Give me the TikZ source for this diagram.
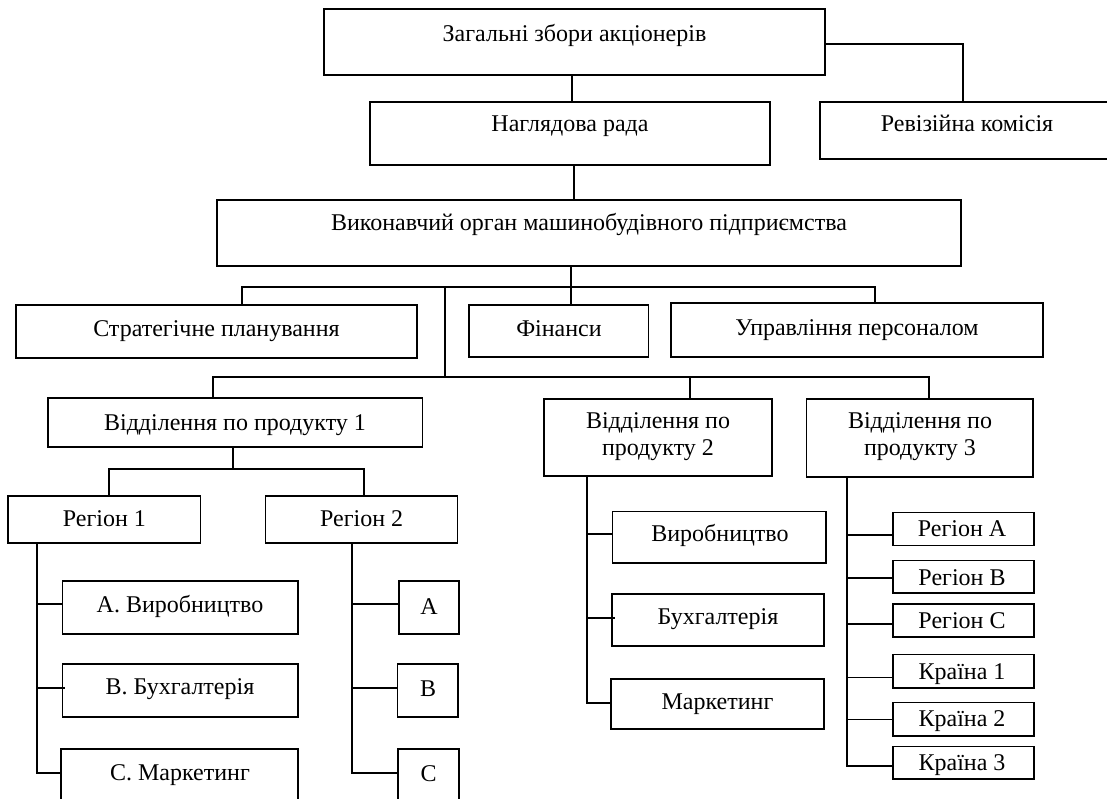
\documentclass[tikz,border=0pt]{standalone}
\usepackage{fontspec}
\setmainfont{Liberation Serif}
\tikzset{
  box/.style={draw, line width=1.3pt, inner sep=0pt, outer sep=0pt},
  txt/.style={anchor=base, inner sep=0pt, font=\fontsize{24}{28}\selectfont},
  link/.style={line width=1.3pt}
}
\newcommand{\mkbox}[5]{\node[box, minimum width={(#4)-(#2)}, minimum height={(#5)-(#3)}] (#1) at ({((#2)+(#4))/2},{((#3)+(#5))/2}) {};}
\begin{document}
\begin{tikzpicture}[x=1pt,y=-1pt]
\useasboundingbox (0,0) rectangle (1107,798);
\clip (0,0) rectangle (1107,798);
\fill[white] (0,0) rectangle (1107,798);
% boxes
\mkbox{zag}{324}{9}{825}{75}
\mkbox{nag}{370}{102}{770}{165}
\mkbox{rev}{820}{102}{1112}{159}
\mkbox{vyk}{217}{200}{961}{266}
\mkbox{strat}{16}{305}{417}{358}
\mkbox{fin}{469}{305}{648.5}{357}
\mkbox{upr}{671}{303}{1043}{357}
\mkbox{vid1}{48}{398}{422.5}{447}
\mkbox{vid2}{544}{399}{772}{476}
\mkbox{vid3}{806.5}{399}{1033}{477}
\mkbox{reg1}{8}{496}{200.7}{543}
\mkbox{reg2}{265.7}{496}{457.7}{543}
\mkbox{a1}{62.5}{581}{298}{634}
\mkbox{b1}{62.5}{664}{298}{717}
\mkbox{c1}{61}{749}{298}{800}
\mkbox{a2}{399}{581}{459}{634}
\mkbox{b2}{397.5}{664}{458}{717}
\mkbox{c2}{398}{749}{459}{800}
\mkbox{vir}{612.7}{511.7}{826}{563}
\mkbox{buh}{612}{594}{824}{646}
\mkbox{mar}{611}{679}{824}{729}
\mkbox{rA}{893}{512.7}{1034}{545.5}
\mkbox{rB}{893}{560.7}{1034}{593}
\mkbox{rC}{893}{604}{1034}{637}
\mkbox{k1}{893}{654.7}{1034}{688}
\mkbox{k2}{893}{702.7}{1034}{736}
\mkbox{k3}{893}{746.7}{1034}{779}
% texts
\node[txt] (tzag) at (574.5,41) {Загальні збори акціонерів};
\node[txt] (tnag) at (570,131.7) {Наглядова рада};
\node[txt] (trev) at (967,131.7) {Ревізійна комісія};
\node[txt] (tvyk) at (589,230) {Виконавчий орган машинобудівного підприємства};
\node[txt] (tstrat) at (216.5,336.7) {Стратегічне планування};
\node[txt] (tfin) at (559,336.7) {Фінанси};
\node[txt] (tupr) at (857,335) {Управління персоналом};
\node[txt] (tvid1) at (235,430) {Відділення по продукту 1};
\node[txt] (tvid2a) at (658,428) {Відділення по};
\node[txt] (tvid2b) at (658,455) {продукту 2};
\node[txt] (tvid3a) at (920,428) {Відділення по};
\node[txt] (tvid3b) at (920,455) {продукту 3};
\node[txt] (treg1) at (104.4,526) {Регіон 1};
\node[txt] (treg2) at (361.7,526) {Регіон 2};
\node[txt] (ta1) at (180,612) {А. Виробництво};
\node[txt] (tb1) at (180,694) {В. Бухгалтерія};
\node[txt] (tc1) at (180,780) {С. Маркетинг};
\node[txt] (ta2) at (429,614) {А};
\node[txt] (tb2) at (428,696) {В};
\node[txt] (tc2) at (428.5,781) {С};
\node[txt] (tvir) at (720,541) {Виробництво};
\node[txt] (tbuh) at (718,624) {Бухгалтерія};
\node[txt] (tmar) at (717.5,709) {Маркетинг};
\node[txt] (trA) at (962,536.7) {Регіон А};
\node[txt] (trB) at (962,585) {Регіон В};
\node[txt] (trC) at (962,628) {Регіон С};
\node[txt] (tk1) at (962,679) {Країна 1};
\node[txt] (tk2) at (962,726.7) {Країна 2};
\node[txt] (tk3) at (962,770.7) {Країна 3};
% junction coordinates
\coordinate (jv) at (571,287);
\coordinate (j1L) at (242,287);
\coordinate (j1R) at (875,287);
\coordinate (j2T) at (445,287);
\coordinate (j2) at (445,377);
\coordinate (j2L) at (213,377);
\coordinate (j2M) at (690,377);
\coordinate (j2R) at (929,377);
\coordinate (j3) at (233,469);
\coordinate (j3L) at (109,469);
\coordinate (j3R) at (364,469);
\coordinate (s1) at (37,0);
\coordinate (s2) at (352,0);
\coordinate (s3) at (587,0);
\coordinate (s4) at (847,0);
% connectors
\draw[link] ([xshift=-2.5pt]zag.south) -- ([xshift=-2.5pt]zag.south |- nag.north);
\draw[link] ([yshift=-2pt]zag.east) -| ([xshift=-3pt]rev.north);
\draw[link] ([xshift=4pt]nag.south) -- ([xshift=4pt]nag.south |- vyk.north);
\draw[link] (vyk.south -| jv) -- (jv |- fin.north);
\draw[link] (j1L |- strat.north) -- (j1L) -- (j1R) -- (j1R |- upr.north);
\draw[link] (j2T) -- (j2);
\draw[link] (j2L |- vid1.north) -- (j2L) -- (j2R) -- (j2R |- vid3.north);
\draw[link] (j2M) -- (j2M |- vid2.north);
\draw[link] (j3 |- vid1.south) -- (j3);
\draw[link] (j3L |- reg1.north) -- (j3L) -- (j3R) -- (j3R |- reg2.north);
% region 1 spine
\draw[link] (s1 |- reg1.south) -- ([yshift=1.5pt]c1.west -| s1) -- ([yshift=1.5pt]c1.west);
\draw[link] ([yshift=3.5pt]a1.west -| s1) -- ([yshift=3.5pt]a1.west);
\draw[link] ([yshift=2.5pt]b1.west -| s1) -- ([yshift=2.5pt, xshift=2.5pt]b1.west);
% region 2 spine
\draw[link] (s2 |- reg2.south) -- ([yshift=1.5pt]c2.west -| s2) -- ([yshift=1.5pt]c2.west);
\draw[link] ([yshift=3.5pt]a2.west -| s2) -- ([yshift=3.5pt]a2.west);
\draw[link] ([yshift=2.5pt]b2.west -| s2) -- ([yshift=2.5pt]b2.west);
% product 2 spine
\draw[link] (s3 |- vid2.south) -- ([yshift=1pt]mar.west -| s3) -- ([yshift=1pt]mar.west);
\draw[link] ([yshift=3.5pt]vir.west -| s3) -- ([yshift=3.5pt]vir.west);
\draw[link] ([yshift=2pt]buh.west -| s3) -- ([yshift=2pt, xshift=2.5pt]buh.west);
% product 3 spine
\draw[link] (s4 |- vid3.south) -- ([yshift=-3pt]k3.west -| s4) -- ([yshift=-3pt]k3.west);
\draw[link] ([yshift=-6pt]rA.west -| s4) -- ([yshift=-6pt]rA.west);
\draw[link] ([yshift=-1pt]rB.west -| s4) -- ([yshift=-1pt]rB.west);
\draw[link] ([yshift=-3.5pt]rC.west -| s4) -- ([yshift=-3.5pt]rC.west);
\draw[link] ([yshift=-6pt]k1.west -| s4) -- ([yshift=-6pt]k1.west);
\draw[link] (k2.west -| s4) -- (k2.west);
\end{tikzpicture}
\end{document}
